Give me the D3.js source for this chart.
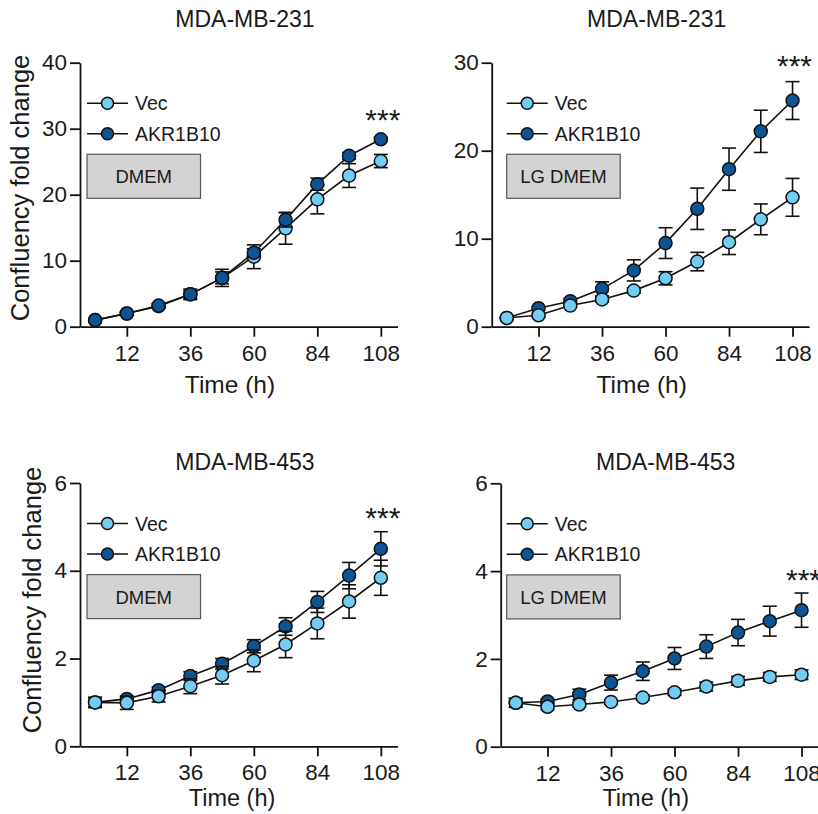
<!DOCTYPE html>
<html>
<head>
<meta charset="utf-8">
<script src="https://cdn.jsdelivr.net/npm/d3@7/dist/d3.min.js"></script>
<style>
  body { margin: 0; background: #fff; }
  text { font-family: "Liberation Sans", Arial, sans-serif; fill: #1a1a1a; }
</style>
</head>
<body>
<svg width="818" height="814"></svg>
<script>
// time points (h) and x ticks
var hours = [0, 12, 24, 36, 48, 60, 72, 84, 96, 108];
var xTicks = [12, 36, 60, 84, 108];
var seriesNames = ["Vec", "AKR1B10"];

// MDA-MB-231, DMEM
var vec231 = [1.0, 2.0, 3.1, 4.9, 7.4, 10.6, 14.9, 19.3, 22.9, 25.1];
var vec231Err = [0.1, 0.2, 0.3, 0.8, 1.3, 1.8, 2.4, 2.2, 1.8, 1.0];
var akr231 = [1.0, 2.0, 3.2, 4.9, 7.4, 11.2, 16.2, 21.6, 25.9, 28.4];
var akr231Err = [0.1, 0.2, 0.3, 0.6, 0.9, 0.6, 1.1, 0.9, 0.5, 0.3];

// MDA-MB-231, LG DMEM
var vec231lg = [1.0, 1.3, 2.4, 3.1, 4.1, 5.5, 7.4, 9.6, 12.2, 14.7];
var vec231lgErr = [0.1, 0.2, 0.2, 0.3, 0.3, 0.75, 1.05, 1.4, 1.75, 2.15];
var akr231lg = [1.0, 2.1, 2.9, 4.3, 6.4, 9.5, 13.4, 17.9, 22.2, 25.7];
var akr231lgErr = [0.1, 0.2, 0.3, 0.8, 1.2, 1.75, 2.35, 2.4, 2.4, 2.15];

// MDA-MB-453, DMEM
var vec453 = [1.0, 0.99, 1.14, 1.37, 1.62, 1.95, 2.32, 2.80, 3.30, 3.84];
var vec453Err = [0.12, 0.15, 0.13, 0.17, 0.2, 0.25, 0.3, 0.35, 0.38, 0.4];
var akr453 = [1.0, 1.08, 1.28, 1.60, 1.88, 2.28, 2.73, 3.29, 3.89, 4.50];
var akr453Err = [0.1, 0.06, 0.07, 0.1, 0.12, 0.15, 0.2, 0.24, 0.3, 0.39];

// MDA-MB-453, LG DMEM
var vec453lg = [1.0, 0.91, 0.96, 1.02, 1.12, 1.24, 1.37, 1.50, 1.59, 1.64];
var vec453lgErr = [0.1, 0.06, 0.05, 0.05, 0.06, 0.07, 0.1, 0.1, 0.1, 0.11];
var akr453lg = [1.0, 1.03, 1.19, 1.46, 1.72, 2.01, 2.28, 2.60, 2.86, 3.11];
var akr453lgErr = [0.1, 0.05, 0.12, 0.17, 0.21, 0.25, 0.27, 0.3, 0.34, 0.39];

// y-axis maxima / ticks and position of the *** mark (data units)
var yMax = [40, 30, 6, 6];
var yTicks = [[0, 10, 20, 30, 40], [0, 10, 20, 30], [0, 2, 4, 6], [0, 2, 4, 6]];
var starY = [31.8, 29.9, 5.26, 3.87];

var panels = [
  {title: "MDA-MB-231", medium: "DMEM", vec: vec231, vecErr: vec231Err, akr: akr231, akrErr: akr231Err,
   left: 80, top: 62.7, bottom: 326.7, titleY: 27.3, xlabY: 393, xlabOff: 150, xlabSize: 24.5, legendX: 87,
   ylab: true, ylabX: 28.5, ylabY: 188, akrFront: true},
  {title: "MDA-MB-231", medium: "LG DMEM", vec: vec231lg, vecErr: vec231lgErr, akr: akr231lg, akrErr: akr231lgErr,
   left: 491.7, top: 62.7, bottom: 326.7, titleY: 27.3, xlabY: 393, xlabOff: 150, xlabSize: 24.5, legendX: 506.7,
   ylab: false, akrFront: false},
  {title: "MDA-MB-453", medium: "DMEM", vec: vec453, vecErr: vec453Err, akr: akr453, akrErr: akr453Err,
   left: 80, top: 483, bottom: 746.3, titleY: 470, xlabY: 806, xlabOff: 152, xlabSize: 23.5, legendX: 87,
   ylab: true, ylabX: 41, ylabY: 600, akrFront: false},
  {title: "MDA-MB-453", medium: "LG DMEM", vec: vec453lg, vecErr: vec453lgErr, akr: akr453lg, akrErr: akr453lgErr,
   left: 500.7, top: 483.3, bottom: 746.7, titleY: 470, xlabY: 806, xlabOff: 145, xlabSize: 23.5, legendX: 506.7,
   ylab: false, akrFront: false}
];

var colors = {Vec: "#72cdf4", AKR1B10: "#0b5596"};
var plotW = 317.5, r = 6.5, capW = 7;

var svg = d3.select("svg");

panels.forEach(function(p, pi) {
  var x = d3.scaleLinear().domain([-5.7, 114.3]).range([p.left, p.left + plotW]);
  var y = d3.scaleLinear().domain([0, yMax[pi]]).range([p.bottom, p.top]);
  var g = svg.append("g");

  // axes
  var xa = g.append("g")
      .attr("transform", "translate(0," + p.bottom + ")")
      .call(d3.axisBottom(x).tickValues(xTicks).tickSize(10).tickSizeOuter(0).tickPadding(8));
  var ya = g.append("g")
      .attr("transform", "translate(" + p.left + ",0)")
      .call(d3.axisLeft(y).tickValues(yTicks[pi]).tickFormat(d3.format("d"))
        .tickSize(10).tickSizeOuter(0).tickPadding(3));
  [xa, ya].forEach(function(a) {
    a.selectAll("path, line").attr("stroke", "#111").attr("stroke-width", 1.8);
    a.selectAll("text").attr("font-size", 22.5).attr("fill", "#1a1a1a")
      .attr("font-family", "'Liberation Sans', Arial, sans-serif");
  });

  g.append("text")
      .attr("x", p.left + 165).attr("y", p.titleY)
      .attr("text-anchor", "middle").attr("font-size", 23)
      .text(p.title);

  g.append("text")
      .attr("x", p.left + p.xlabOff).attr("y", p.xlabY)
      .attr("text-anchor", "middle").attr("font-size", p.xlabSize)
      .text("Time (h)");

  if (p.ylab) {
    g.append("text")
        .attr("transform", "translate(" + p.ylabX + "," + p.ylabY + ") rotate(-90)")
        .attr("text-anchor", "middle").attr("font-size", 25.5)
        .text("Confluency fold change");
  }

  // series
  var series = [
    {name: "Vec", vals: p.vec, err: p.vecErr},
    {name: "AKR1B10", vals: p.akr, err: p.akrErr}
  ];
  var order = p.akrFront ? [series[0], series[1]] : [series[1], series[0]];

  var line = d3.line()
      .x(function(d, i) { return x(hours[i]); })
      .y(function(d) { return y(d); });

  order.forEach(function(s) {
    var sg = g.append("g");
    var eb = sg.selectAll("g.eb")
        .data(s.vals)
        .enter().append("g")
        .attr("stroke", "#111").attr("stroke-width", 1.6);
    eb.append("line")
        .attr("x1", function(d, i) { return x(hours[i]); })
        .attr("x2", function(d, i) { return x(hours[i]); })
        .attr("y1", function(d, i) { return y(d - s.err[i]); })
        .attr("y2", function(d, i) { return y(d + s.err[i]); });
    eb.append("line")
        .attr("x1", function(d, i) { return x(hours[i]) - capW; })
        .attr("x2", function(d, i) { return x(hours[i]) + capW; })
        .attr("y1", function(d, i) { return y(d - s.err[i]); })
        .attr("y2", function(d, i) { return y(d - s.err[i]); });
    eb.append("line")
        .attr("x1", function(d, i) { return x(hours[i]) - capW; })
        .attr("x2", function(d, i) { return x(hours[i]) + capW; })
        .attr("y1", function(d, i) { return y(d + s.err[i]); })
        .attr("y2", function(d, i) { return y(d + s.err[i]); });

    sg.append("path")
        .datum(s.vals)
        .attr("fill", "none").attr("stroke", "#111").attr("stroke-width", 1.6)
        .attr("d", line);

    sg.selectAll("circle")
        .data(s.vals)
        .enter().append("circle")
        .attr("cx", function(d, i) { return x(hours[i]); })
        .attr("cy", function(d) { return y(d); })
        .attr("r", r)
        .attr("fill", colors[s.name])
        .attr("stroke", "#111").attr("stroke-width", 1.5);
  });

  // *** over the last time point
  g.append("text")
      .attr("x", x(hours[hours.length - 1]) + 2).attr("y", y(starY[pi]))
      .attr("dy", "0.43em")
      .attr("text-anchor", "middle").attr("font-size", 30)
      .text("***");

  // legend
  var lg = g.append("g").selectAll("g")
      .data(seriesNames)
      .enter().append("g")
      .attr("transform", function(d, i) { return "translate(" + p.legendX + "," + (p.top + 40.5 + i * 30.5) + ")"; });
  lg.append("line")
      .attr("x1", 0).attr("x2", 41)
      .attr("stroke", "#111").attr("stroke-width", 1.6);
  lg.append("circle")
      .attr("cx", 20.5).attr("r", 6)
      .attr("fill", function(d) { return colors[d]; })
      .attr("stroke", "#111").attr("stroke-width", 1.5);
  lg.append("text")
      .attr("x", 48).attr("y", 7)
      .attr("font-size", 19.5)
      .text(function(d) { return d; });

  // medium box
  var bx = p.legendX, by = p.top + 91.6;
  g.append("rect")
      .attr("x", bx).attr("y", by)
      .attr("width", 113.5).attr("height", 44)
      .attr("fill", "#d3d3d3").attr("stroke", "#555").attr("stroke-width", 1.2);
  g.append("text")
      .attr("x", bx + 56.75).attr("y", by + 29)
      .attr("text-anchor", "middle").attr("font-size", 18.5)
      .text(p.medium);
});
</script>
</body>
</html>
